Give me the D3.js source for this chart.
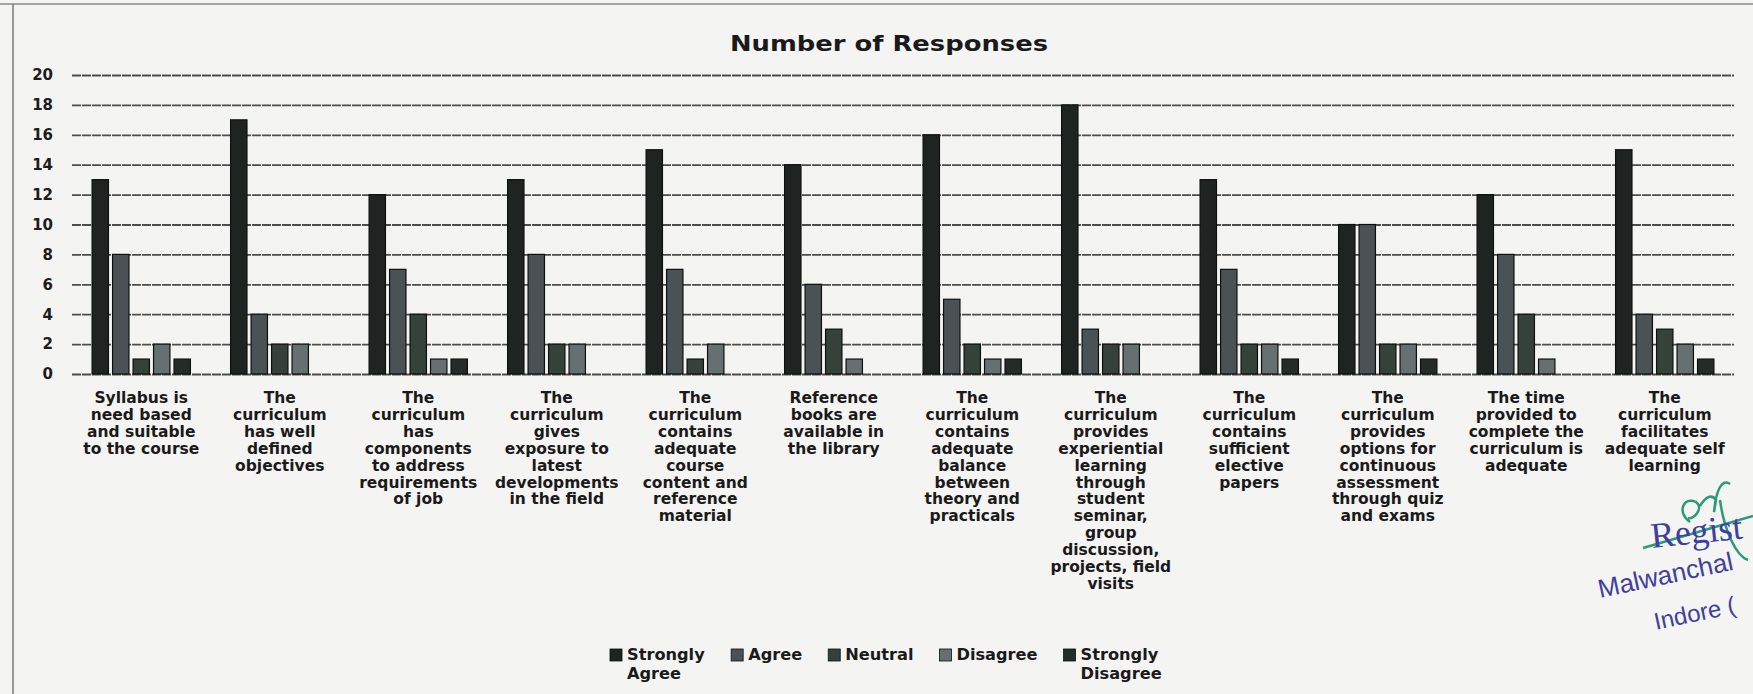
<!DOCTYPE html>
<html>
<head>
<meta charset="utf-8">
<script src="https://cdn.jsdelivr.net/npm/d3@7"></script>
<style>
  html, body { margin: 0; padding: 0; background: #f4f4f2; }
  svg { display: block; }
</style>
</head>
<body>
<div id="chart"></div>
<script>
// Category labels, already broken into the lines used on the chart
const categoryLines = [
  ['Syllabus is', 'need based', 'and suitable', 'to the course'],
  ['The', 'curriculum', 'has well', 'defined', 'objectives'],
  ['The', 'curriculum', 'has', 'components', 'to address', 'requirements', 'of job'],
  ['The', 'curriculum', 'gives', 'exposure to', 'latest', 'developments', 'in the field'],
  ['The', 'curriculum', 'contains', 'adequate', 'course', 'content and', 'reference', 'material'],
  ['Reference', 'books are', 'available in', 'the library'],
  ['The', 'curriculum', 'contains', 'adequate', 'balance', 'between', 'theory and', 'practicals'],
  ['The', 'curriculum', 'provides', 'experiential', 'learning', 'through', 'student', 'seminar,', 'group', 'discussion,', 'projects, field', 'visits'],
  ['The', 'curriculum', 'contains', 'sufficient', 'elective', 'papers'],
  ['The', 'curriculum', 'provides', 'options for', 'continuous', 'assessment', 'through quiz', 'and exams'],
  ['The time', 'provided to', 'complete the', 'curriculum is', 'adequate'],
  ['The', 'curriculum', 'facilitates', 'adequate self', 'learning']
];

const seriesNames = ['Strongly Agree', 'Agree', 'Neutral', 'Disagree', 'Strongly Disagree'];
const legendLines = [['Strongly', 'Agree'], ['Agree'], ['Neutral'], ['Disagree'], ['Strongly', 'Disagree']];

const stronglyAgree    = [13, 17, 12, 13, 15, 14, 16, 18, 13, 10, 12, 15];
const agree            = [8, 4, 7, 8, 7, 6, 5, 3, 7, 10, 8, 4];
const neutral          = [1, 2, 4, 2, 1, 3, 2, 2, 2, 2, 4, 3];
const disagree         = [2, 2, 1, 2, 2, 1, 1, 2, 2, 2, 1, 2];
const stronglyDisagree = [1, 0, 1, 0, 0, 0, 1, 0, 1, 1, 0, 1];

const yTicks = [0, 2, 4, 6, 8, 10, 12, 14, 16, 18, 20];

const seriesColors = ['#1f2422', '#4a5255', '#34423a', '#667070', '#252b28'];

// Stamp text as it shows on the scanned page (cut by the page edge)
const stampLines = ['Regist', 'Malwanchal', 'Indore ('];

let chart = {};

chart.create = function(element) {
  const width = 1753, height = 694;
  const svg = d3.select(element).append('svg')
    .attr('width', width)
    .attr('height', height)
    .style('font-family', 'DejaVu Sans, Verdana, sans-serif')
    .style('font-weight', 'bold');

  svg.append('rect')
    .attr('width', width).attr('height', height)
    .attr('fill', '#f4f4f2');

  //Scanned page frame
  svg.append('line')
    .attr('x1', 0).attr('x2', width).attr('y1', 4).attr('y2', 4)
    .attr('stroke', '#8a8a8a').attr('stroke-width', 1.5);
  svg.append('line')
    .attr('x1', 13).attr('x2', 13).attr('y1', 4).attr('y2', height)
    .attr('stroke', '#7a7a7a').attr('stroke-width', 1.5);

  const keys = categoryLines.map((l) => l.join(' '));
  const data = keys.map((k, i) => ({
    key: k,
    values: [stronglyAgree[i], agree[i], neutral[i], disagree[i], stronglyDisagree[i]]
  }));

  const scales = this._setScales(keys);
  this._drawAxes(svg, scales);
  this._drawBars(svg, scales, data);
  this._drawTitle(svg);
  this._drawLegend(svg);
  this._drawStamp(svg);
};

chart._setScales = function(keys) {
  const x0 = d3.scaleBand().domain(keys).range([72, 1734])
    .paddingInner(0.29).paddingOuter(0.145);
  const x1 = d3.scaleBand().domain(seriesNames).range([0, x0.bandwidth()])
    .paddingInner(0.2);
  const y = d3.scaleLinear().domain([0, 20]).range([374, 75]);
  const color = d3.scaleOrdinal().domain(seriesNames).range(seriesColors);
  return {x0, x1, y, color};
};

chart._drawAxes = function(svg, scales) {
  const { x0, y } = scales;
  const [left, right] = x0.range();

  //Y axis doubles as the gridlines
  const yAxis = svg.append('g')
    .attr('class', 'axis axis-y')
    .attr('transform', 'translate(' + left + ',0)')
    .call(d3.axisLeft(y).tickValues(yTicks).tickSize(-(right - left)).tickPadding(19));

  yAxis.select('.domain').remove();
  yAxis.selectAll('.tick line')
    .attr('stroke', '#4c4c4c')
    .attr('stroke-width', 1.8)
    .attr('stroke-dasharray', '9,1');
  yAxis.selectAll('.tick text')
    .attr('fill', '#1c1c1c')
    .style('font-size', '15px')
    .style('font-family', 'DejaVu Sans, sans-serif')
    .style('font-weight', 'bold');

  //X axis with multi-line labels
  const xAxis = svg.append('g')
    .attr('class', 'axis axis-x')
    .attr('transform', 'translate(0,' + y(0) + ')')
    .call(d3.axisBottom(x0).tickSize(0).tickPadding(0));

  xAxis.select('.domain').remove();
  xAxis.selectAll('.tick text')
    .attr('fill', '#1a1a1a')
    .attr('y', 0)
    .attr('dy', null)
    .style('font-size', '15.5px')
    .style('font-family', 'DejaVu Sans, sans-serif')
    .style('font-weight', 'bold')
    .each(function(d, i) {
      const t = d3.select(this).text(null);
      categoryLines[i].forEach((line, j) => {
        t.append('tspan')
          .attr('x', 0)
          .attr('y', 29 + j * 16.9)
          .text(line);
      });
    });
};

chart._drawBars = function(svg, scales, data) {
  const { x0, x1, y, color } = scales;

  const groups = svg.append('g')
    .attr('class', 'bars')
    .selectAll('g')
    .data(data)
    .enter()
    .append('g')
    .attr('transform', (d) => 'translate(' + x0(d.key) + ',0)');

  groups.selectAll('rect')
    .data((d) => d.values.map((v, i) => ({name: seriesNames[i], value: v})).filter((b) => b.value > 0))
    .enter()
    .append('rect')
    .attr('x', (d) => x1(d.name))
    .attr('width', x1.bandwidth())
    .attr('y', (d) => y(d.value))
    .attr('height', (d) => y(0) - y(d.value))
    .attr('fill', (d) => color(d.name))
    .attr('stroke', '#0e100f')
    .attr('stroke-width', 1.2);
};

chart._drawTitle = function(svg) {
  svg.append('text')
    .attr('x', 889)
    .attr('y', 51)
    .attr('text-anchor', 'middle')
    .attr('fill', '#1a1a1a')
    .attr('textLength', 318)
    .attr('lengthAdjust', 'spacingAndGlyphs')
    .style('font-size', '21px')
    .text('Number of Responses');
};

chart._drawLegend = function(svg) {
  const legend = svg.append('g')
    .attr('class', 'legend')
    .attr('transform', 'translate(610,660)');

  let offset = 0;
  seriesNames.forEach((name, i) => {
    const item = legend.append('g').attr('transform', 'translate(' + offset + ',0)');
    item.append('rect')
      .attr('x', 0).attr('y', -11)
      .attr('width', 12).attr('height', 12)
      .attr('fill', seriesColors[i])
      .attr('stroke', '#0e100f').attr('stroke-width', 0.8);
    const label = item.append('text')
      .attr('fill', '#1a1a1a')
      .style('font-size', '16.2px');
    legendLines[i].forEach((line, j) => {
      label.append('tspan')
        .attr('x', 17)
        .attr('y', j * 19)
        .text(line);
    });
    offset += 17 + label.node().getBBox().width + 26;
  });
};

//Registrar stamp and signature on the scanned page
chart._drawStamp = function(svg) {
  const stamp = svg.append('g').attr('class', 'stamp');

  stamp.append('path')
    .attr('d', 'M1643,548 L1753,516')
    .attr('fill', 'none').attr('stroke', '#2a9a7a').attr('stroke-width', 2.5);
  stamp.append('path')
    .attr('d', 'M1690,522 C1676,512 1684,496 1696,502 C1704,508 1694,520 1688,518 M1700,506 C1706,496 1712,494 1716,500 L1714,512 C1716,490 1722,478 1730,484 M1720,500 C1724,530 1736,556 1748,560')
    .attr('fill', 'none').attr('stroke', '#2a9a7a').attr('stroke-width', 2.5);

  const fonts = ['Liberation Serif, serif', 'Liberation Sans Narrow, Liberation Sans, sans-serif', 'Liberation Sans Narrow, Liberation Sans, sans-serif'];
  const sizes = [36, 26, 24];
  const places = [[1652, 548, -6], [1600, 598, -12], [1656, 630, -12]];
  stampLines.forEach((line, i) => {
    stamp.append('text')
      .attr('transform', 'translate(' + places[i][0] + ',' + places[i][1] + ') rotate(' + places[i][2] + ')')
      .attr('fill', '#3e3f9e')
      .style('font-family', fonts[i])
      .style('font-weight', 'normal')
      .style('font-size', sizes[i] + 'px')
      .text(line);
  });
};

chart.create('#chart');
</script>
</body>
</html>
